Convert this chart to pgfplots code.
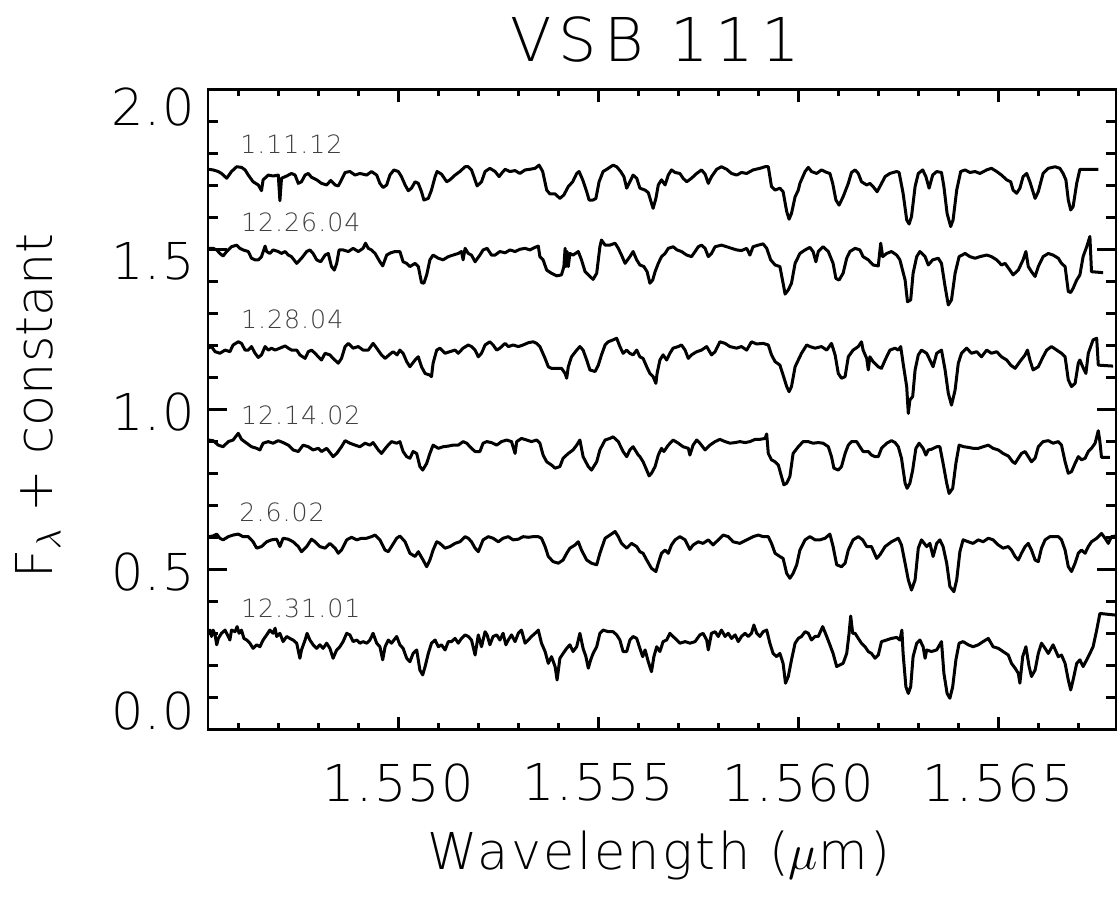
\documentclass[border=0pt]{standalone}
\usepackage{fontspec}
\IfFontExistsTF{DejaVu Sans ExtraLight}{\setmainfont{DejaVu Sans ExtraLight}}{\setmainfont{DejaVu Sans}}
\newcommand\ticksize{\fontsize{25.4pt}{30pt}\addfontfeature{LetterSpace=3}\selectfont}
\newcommand\labelsize{\fontsize{25.4pt}{30pt}\addfontfeature{LetterSpace=5}\selectfont}
\newcommand\ylabelsize{\fontsize{25.4pt}{30pt}\selectfont}
\newcommand\titlesize{\fontsize{30.2pt}{36pt}\addfontfeature{LetterSpace=12}\selectfont}
\newcommand\datesize{\fontsize{12.6pt}{15pt}\addfontfeature{LetterSpace=4}\selectfont}
\usepackage{pgfplots}
\pgfplotsset{compat=1.18}

\begin{document}
\begin{tikzpicture}
\begin{axis}[
    at={(0,0)}, anchor=south west,
    scale only axis, width=454pt, height=320pt,
    xmin=1.5452425, xmax=1.5679425, ymin=0, ymax=2,
    tick pos=both, tick align=inside,
    axis line style={line width=1.4pt},
    tick style={line width=1.4pt, black},
    major tick length=9.5pt, minor tick length=5pt,
    xtick style={/pgfplots/major tick length=6.3pt, /pgfplots/minor tick length=3.3pt},
    xtick={1.550,1.555,1.560,1.565},
    xticklabels={1.550,1.555,1.560,1.565},
    minor xtick={1.546,1.547,1.548,1.549,1.551,1.552,1.553,1.554,1.556,1.557,1.558,1.559,1.561,1.562,1.563,1.564,1.566,1.567},
    ytick={0,0.5,1,1.5,2}, yticklabels={},
    minor y tick num=4,
    extra y ticks={0.057,0.492,0.992,1.463,1.944},
    extra y tick labels={0.0,0.5,1.0,1.5,2.0},
    extra y tick style={tick style={draw=none}},
    /pgf/number format/assume math mode=true,
    ticklabel style={font=\ticksize},
    xticklabel style={yshift=-13.5pt},
    yticklabel style={xshift=-3pt},
]
% 1.11.12
\addplot[black, line width=1.5pt, line join=round] coordinates {
(1.54525,1.750)(1.54537,1.748)(1.54550,1.743)(1.54558,1.737)(1.54571,1.722)(1.54583,1.743)(1.54596,1.758)(1.54608,1.756)(1.54617,1.748)(1.54625,1.732)(1.54637,1.711)(1.54650,1.701)(1.54658,1.683)(1.54662,1.717)(1.54675,1.732)(1.54687,1.729)(1.54700,1.732)(1.54704,1.652)(1.54708,1.722)(1.54721,1.729)(1.54733,1.737)(1.54742,1.732)(1.54750,1.706)(1.54758,1.711)(1.54767,1.732)(1.54775,1.737)(1.54783,1.725)(1.54796,1.717)(1.54808,1.706)(1.54821,1.701)(1.54831,1.715)(1.54842,1.701)(1.54850,1.698)(1.54858,1.717)(1.54867,1.740)(1.54879,1.743)(1.54892,1.732)(1.54904,1.737)(1.54921,1.732)(1.54933,1.743)(1.54946,1.732)(1.54954,1.706)(1.54962,1.693)(1.54971,1.701)(1.54979,1.732)(1.54989,1.748)(1.55000,1.743)(1.55008,1.727)(1.55017,1.701)(1.55025,1.683)(1.55033,1.691)(1.55042,1.711)(1.55050,1.706)(1.55058,1.680)(1.55064,1.654)(1.55075,1.659)(1.55083,1.685)(1.55092,1.727)(1.55097,1.743)(1.55108,1.735)(1.55121,1.711)(1.55129,1.717)(1.55142,1.732)(1.55154,1.743)(1.55167,1.758)(1.55175,1.758)(1.55183,1.748)(1.55189,1.727)(1.55197,1.698)(1.55208,1.711)(1.55217,1.743)(1.55229,1.753)(1.55242,1.743)(1.55252,1.727)(1.55258,1.737)(1.55267,1.750)(1.55279,1.743)(1.55292,1.746)(1.55304,1.737)(1.55317,1.748)(1.55329,1.750)(1.55342,1.753)(1.55352,1.763)(1.55361,1.743)(1.55371,1.685)(1.55379,1.673)(1.55392,1.673)(1.55404,1.659)(1.55414,1.670)(1.55425,1.696)(1.55436,1.711)(1.55446,1.737)(1.55452,1.743)(1.55461,1.717)(1.55471,1.680)(1.55477,1.654)(1.55487,1.654)(1.55494,1.659)(1.55502,1.711)(1.55512,1.743)(1.55525,1.753)(1.55537,1.763)(1.55546,1.758)(1.55556,1.743)(1.55564,1.727)(1.55571,1.691)(1.55579,1.711)(1.55587,1.732)(1.55596,1.722)
(1.55604,1.691)(1.55617,1.685)(1.55625,1.677)(1.55633,1.644)(1.55637,1.628)(1.55644,1.659)(1.55650,1.701)(1.55658,1.717)(1.55667,1.701)(1.55675,1.732)(1.55683,1.748)(1.55692,1.740)(1.55704,1.737)(1.55712,1.722)(1.55721,1.711)(1.55733,1.722)(1.55746,1.737)(1.55758,1.748)(1.55767,1.735)(1.55775,1.706)(1.55783,1.727)(1.55796,1.750)(1.55808,1.758)(1.55821,1.750)(1.55833,1.737)(1.55846,1.732)(1.55858,1.740)(1.55871,1.737)(1.55887,1.748)(1.55904,1.753)(1.55917,1.758)(1.55925,1.758)(1.55933,1.696)(1.55942,1.685)(1.55954,1.691)(1.55962,1.680)(1.55971,1.618)(1.55977,1.594)(1.55983,1.612)(1.55992,1.664)(1.56000,1.685)(1.56004,1.706)(1.56017,1.743)(1.56025,1.756)(1.56033,1.743)(1.56046,1.737)(1.56058,1.748)(1.56071,1.740)(1.56079,1.737)(1.56086,1.706)(1.56094,1.654)(1.56102,1.638)(1.56112,1.664)(1.56125,1.706)(1.56133,1.740)(1.56142,1.748)(1.56150,1.737)(1.56158,1.711)(1.56171,1.701)(1.56179,1.706)(1.56187,1.696)(1.56197,1.680)(1.56204,1.696)(1.56217,1.727)(1.56229,1.737)(1.56246,1.743)(1.56252,1.740)(1.56262,1.675)(1.56271,1.592)(1.56277,1.579)(1.56283,1.602)(1.56292,1.696)(1.56300,1.737)(1.56311,1.748)(1.56319,1.727)(1.56327,1.691)(1.56336,1.732)(1.56346,1.743)(1.56358,1.740)(1.56364,1.696)(1.56372,1.612)(1.56381,1.571)(1.56387,1.592)(1.56396,1.685)(1.56406,1.743)(1.56417,1.748)(1.56429,1.740)(1.56442,1.743)(1.56454,1.737)(1.56471,1.748)(1.56483,1.753)(1.56496,1.743)(1.56508,1.732)(1.56521,1.717)(1.56531,1.711)(1.56537,1.685)(1.56546,1.675)(1.56554,1.691)(1.56562,1.727)(1.56571,1.737)(1.56579,1.711)(1.56592,1.659)(1.56600,1.680)(1.56612,1.737)(1.56625,1.753)(1.56642,1.758)(1.56654,1.753)(1.56662,1.737)(1.56669,1.717)(1.56675,1.654)(1.56681,1.623)(1.56687,1.633)(1.56696,1.706)(1.56704,1.750)(1.56750,1.750)
};
% 12.26.04
\addplot[black, line width=1.5pt, line join=round] coordinates {
(1.54525,1.503)(1.54537,1.503)(1.54546,1.498)(1.54554,1.487)(1.54562,1.479)(1.54571,1.493)(1.54583,1.508)(1.54596,1.513)(1.54604,1.503)(1.54612,1.498)(1.54625,1.493)(1.54633,1.472)(1.54642,1.467)(1.54650,1.467)(1.54658,1.477)(1.54667,1.510)(1.54671,1.493)(1.54679,1.487)(1.54687,1.498)(1.54700,1.493)(1.54708,1.487)(1.54717,1.493)(1.54725,1.482)(1.54733,1.477)(1.54746,1.456)(1.54758,1.472)(1.54771,1.493)(1.54779,1.498)(1.54787,1.487)(1.54796,1.467)(1.54806,1.461)(1.54817,1.482)(1.54825,1.487)(1.54833,1.446)(1.54840,1.435)(1.54846,1.456)(1.54852,1.498)(1.54862,1.498)(1.54875,1.493)(1.54887,1.503)(1.54900,1.493)(1.54912,1.503)(1.54918,1.519)(1.54925,1.503)(1.54933,1.498)(1.54942,1.487)(1.54954,1.461)(1.54961,1.448)(1.54971,1.482)(1.54981,1.489)(1.54992,1.493)(1.55004,1.493)(1.55012,1.461)(1.55021,1.456)(1.55029,1.446)(1.55042,1.456)(1.55050,1.446)(1.55058,1.396)(1.55064,1.394)(1.55071,1.420)(1.55079,1.467)(1.55087,1.482)(1.55100,1.472)(1.55112,1.467)(1.55125,1.477)(1.55137,1.482)(1.55150,1.487)(1.55158,1.493)(1.55162,1.467)(1.55167,1.503)(1.55175,1.487)(1.55183,1.482)(1.55192,1.461)(1.55204,1.482)(1.55212,1.498)(1.55222,1.503)(1.55233,1.482)(1.55242,1.482)(1.55254,1.493)(1.55267,1.489)(1.55279,1.498)(1.55292,1.493)(1.55304,1.500)(1.55317,1.503)(1.55329,1.498)(1.55342,1.506)(1.55350,1.510)(1.55354,1.477)(1.55362,1.467)(1.55371,1.435)(1.55383,1.425)(1.55396,1.417)(1.55408,1.420)(1.55414,1.446)(1.55417,1.503)(1.55419,1.446)(1.55422,1.493)(1.55425,1.446)(1.55429,1.487)(1.55437,1.482)(1.55450,1.493)(1.55458,1.467)(1.55467,1.430)(1.55475,1.420)(1.55487,1.406)(1.55496,1.425)(1.55504,1.508)(1.55508,1.529)(1.55517,1.513)(1.55529,1.513)(1.55542,1.519)(1.55550,1.503)(1.55558,1.482)(1.55567,1.456)(1.55579,1.477)(1.55587,1.493)(1.55596,1.467)
(1.55604,1.451)(1.55614,1.446)(1.55622,1.430)(1.55629,1.394)(1.55636,1.404)(1.55642,1.430)(1.55650,1.456)(1.55658,1.477)(1.55667,1.487)(1.55675,1.503)(1.55687,1.508)(1.55697,1.498)(1.55708,1.493)(1.55721,1.482)(1.55733,1.477)(1.55742,1.493)(1.55750,1.508)(1.55758,1.513)(1.55767,1.503)(1.55775,1.477)(1.55783,1.487)(1.55792,1.508)(1.55808,1.513)(1.55821,1.508)(1.55833,1.503)(1.55846,1.498)(1.55858,1.496)(1.55871,1.503)(1.55879,1.482)(1.55887,1.508)(1.55900,1.513)(1.55912,1.517)(1.55921,1.503)(1.55931,1.467)(1.55942,1.451)(1.55954,1.446)(1.55962,1.394)(1.55967,1.360)(1.55975,1.373)(1.55983,1.394)(1.55992,1.456)(1.56004,1.487)(1.56017,1.498)(1.56029,1.506)(1.56037,1.493)(1.56044,1.461)(1.56050,1.493)(1.56062,1.508)(1.56075,1.493)(1.56087,1.456)(1.56094,1.409)(1.56102,1.404)(1.56112,1.425)(1.56121,1.472)(1.56129,1.493)(1.56142,1.503)(1.56154,1.498)(1.56162,1.477)(1.56175,1.467)(1.56187,1.451)(1.56200,1.448)(1.56206,1.519)(1.56211,1.477)(1.56221,1.487)(1.56233,1.493)(1.56246,1.482)(1.56254,1.467)(1.56267,1.404)(1.56273,1.336)(1.56281,1.342)(1.56287,1.425)(1.56296,1.477)(1.56304,1.493)(1.56317,1.477)(1.56325,1.451)(1.56336,1.467)(1.56350,1.472)(1.56358,1.456)(1.56367,1.383)(1.56375,1.326)(1.56383,1.342)(1.56392,1.425)(1.56402,1.477)(1.56417,1.487)(1.56429,1.477)(1.56442,1.472)(1.56454,1.477)(1.56471,1.482)(1.56483,1.477)(1.56496,1.467)(1.56508,1.451)(1.56517,1.456)(1.56529,1.435)(1.56537,1.420)(1.56550,1.435)(1.56562,1.467)(1.56569,1.493)(1.56575,1.446)(1.56583,1.430)(1.56592,1.415)(1.56600,1.446)(1.56612,1.477)(1.56625,1.487)(1.56637,1.482)(1.56650,1.472)(1.56658,1.456)(1.56667,1.446)(1.56675,1.368)(1.56681,1.365)(1.56687,1.378)(1.56696,1.404)(1.56704,1.420)(1.56712,1.477)(1.56721,1.508)(1.56729,1.540)(1.56733,1.430)(1.56762,1.427)
};
% 1.28.04
\addplot[black, line width=1.5pt, line join=round] coordinates {
(1.54525,1.191)(1.54533,1.196)(1.54542,1.180)(1.54554,1.175)(1.54567,1.185)(1.54579,1.180)(1.54587,1.201)(1.54600,1.211)(1.54608,1.206)(1.54617,1.185)(1.54625,1.185)(1.54633,1.196)(1.54642,1.175)(1.54650,1.162)(1.54658,1.170)(1.54667,1.196)(1.54675,1.185)(1.54683,1.191)(1.54692,1.185)(1.54704,1.191)(1.54717,1.198)(1.54725,1.191)(1.54733,1.185)(1.54746,1.185)(1.54754,1.170)(1.54767,1.159)(1.54775,1.180)(1.54783,1.185)(1.54792,1.175)(1.54800,1.164)(1.54808,1.154)(1.54817,1.175)(1.54829,1.170)(1.54837,1.159)(1.54850,1.144)(1.54858,1.159)(1.54867,1.196)(1.54875,1.206)(1.54887,1.191)(1.54900,1.196)(1.54912,1.185)(1.54925,1.185)(1.54937,1.206)(1.54946,1.191)(1.54958,1.170)(1.54967,1.159)(1.54977,1.170)(1.54987,1.180)(1.54997,1.170)(1.55004,1.185)(1.55012,1.175)(1.55021,1.149)(1.55029,1.133)(1.55042,1.154)(1.55050,1.164)(1.55058,1.133)(1.55067,1.112)(1.55079,1.107)(1.55083,1.102)(1.55087,1.144)(1.55096,1.185)(1.55104,1.191)(1.55117,1.175)(1.55129,1.180)(1.55142,1.185)(1.55150,1.175)(1.55162,1.191)(1.55175,1.201)(1.55183,1.196)(1.55192,1.185)(1.55200,1.164)(1.55208,1.175)(1.55217,1.201)(1.55229,1.211)(1.55237,1.201)(1.55246,1.185)(1.55254,1.191)(1.55267,1.206)(1.55275,1.196)(1.55287,1.201)(1.55300,1.196)(1.55312,1.201)(1.55325,1.208)(1.55337,1.211)(1.55346,1.206)(1.55354,1.196)(1.55367,1.159)(1.55375,1.133)(1.55383,1.128)(1.55396,1.128)(1.55408,1.128)(1.55417,1.112)(1.55421,1.097)(1.55425,1.133)(1.55433,1.164)(1.55446,1.185)(1.55454,1.196)(1.55462,1.185)(1.55471,1.154)(1.55479,1.123)(1.55492,1.118)(1.55500,1.138)(1.55508,1.170)(1.55517,1.201)(1.55525,1.211)(1.55537,1.217)(1.55546,1.222)(1.55554,1.196)(1.55562,1.175)(1.55571,1.185)(1.55579,1.175)(1.55587,1.170)(1.55596,1.185)
(1.55604,1.164)(1.55612,1.159)(1.55621,1.133)(1.55629,1.112)(1.55637,1.102)(1.55644,1.081)(1.55647,1.112)(1.55654,1.154)(1.55662,1.170)(1.55671,1.154)(1.55679,1.175)(1.55687,1.191)(1.55700,1.196)(1.55708,1.201)(1.55717,1.185)(1.55725,1.159)(1.55733,1.170)(1.55746,1.180)(1.55758,1.185)(1.55771,1.196)(1.55783,1.170)(1.55792,1.180)(1.55804,1.211)(1.55817,1.206)(1.55829,1.196)(1.55846,1.191)(1.55858,1.196)(1.55871,1.185)(1.55883,1.211)(1.55896,1.204)(1.55912,1.206)(1.55925,1.201)(1.55933,1.170)(1.55942,1.149)(1.55954,1.138)(1.55962,1.107)(1.55971,1.071)(1.55977,1.055)(1.55983,1.071)(1.55992,1.133)(1.56000,1.154)(1.56008,1.175)(1.56021,1.201)(1.56029,1.196)(1.56042,1.191)(1.56058,1.196)(1.56071,1.185)(1.56083,1.206)(1.56092,1.170)(1.56100,1.112)(1.56108,1.097)(1.56117,1.102)(1.56125,1.164)(1.56137,1.185)(1.56150,1.196)(1.56158,1.211)(1.56162,1.185)(1.56171,1.159)(1.56175,1.123)(1.56179,1.164)(1.56187,1.149)(1.56200,1.133)(1.56208,1.128)(1.56217,1.154)(1.56229,1.185)(1.56242,1.191)(1.56250,1.185)(1.56256,1.196)(1.56262,1.144)(1.56271,1.071)(1.56275,0.987)(1.56279,1.029)(1.56286,1.040)(1.56292,1.123)(1.56300,1.170)(1.56308,1.185)(1.56321,1.175)(1.56329,1.154)(1.56337,1.133)(1.56346,1.175)(1.56358,1.185)(1.56367,1.123)(1.56375,1.050)(1.56383,1.013)(1.56392,1.060)(1.56400,1.144)(1.56408,1.175)(1.56421,1.191)(1.56433,1.175)(1.56446,1.180)(1.56458,1.164)(1.56471,1.185)(1.56483,1.175)(1.56496,1.180)(1.56508,1.164)(1.56521,1.154)(1.56531,1.138)(1.56542,1.128)(1.56554,1.149)(1.56567,1.170)(1.56573,1.185)(1.56579,1.154)(1.56587,1.123)(1.56600,1.133)(1.56612,1.164)(1.56621,1.185)(1.56633,1.196)(1.56646,1.185)(1.56658,1.175)(1.56667,1.164)(1.56675,1.092)(1.56683,1.071)(1.56692,1.081)(1.56700,1.144)(1.56704,1.154)(1.56711,1.133)(1.56719,1.112)(1.56725,1.175)(1.56737,1.217)(1.56746,1.222)(1.56750,1.138)(1.56787,1.135)
};
% 12.14.02
\addplot[black, line width=1.5pt, line join=round] coordinates {
(1.54525,0.904)(1.54537,0.902)(1.54550,0.888)(1.54562,0.883)(1.54575,0.899)(1.54587,0.904)(1.54600,0.925)(1.54608,0.906)(1.54621,0.894)(1.54633,0.883)(1.54646,0.878)(1.54654,0.873)(1.54662,0.894)(1.54675,0.899)(1.54687,0.894)(1.54700,0.902)(1.54712,0.896)(1.54725,0.888)(1.54737,0.873)(1.54750,0.868)(1.54762,0.888)(1.54775,0.883)(1.54787,0.873)(1.54800,0.878)(1.54808,0.868)(1.54821,0.878)(1.54831,0.862)(1.54837,0.852)(1.54846,0.862)(1.54858,0.883)(1.54867,0.902)(1.54879,0.894)(1.54892,0.888)(1.54904,0.883)(1.54917,0.894)(1.54929,0.888)(1.54937,0.896)(1.54950,0.873)(1.54958,0.862)(1.54971,0.883)(1.54983,0.899)(1.54996,0.894)(1.55004,0.899)(1.55012,0.868)(1.55021,0.852)(1.55029,0.847)(1.55037,0.868)(1.55046,0.862)(1.55054,0.821)(1.55061,0.810)(1.55071,0.831)(1.55079,0.862)(1.55087,0.888)(1.55100,0.878)(1.55112,0.883)(1.55125,0.885)(1.55137,0.888)(1.55150,0.888)(1.55162,0.899)(1.55171,0.894)(1.55183,0.878)(1.55192,0.868)(1.55204,0.868)(1.55212,0.894)(1.55221,0.899)(1.55233,0.896)(1.55246,0.888)(1.55258,0.899)(1.55271,0.904)(1.55283,0.899)(1.55292,0.862)(1.55296,0.899)(1.55308,0.909)(1.55321,0.904)(1.55333,0.899)(1.55346,0.904)(1.55354,0.894)(1.55362,0.857)(1.55371,0.836)(1.55383,0.826)(1.55392,0.816)(1.55404,0.821)(1.55412,0.847)(1.55425,0.862)(1.55437,0.873)(1.55446,0.888)(1.55454,0.904)(1.55462,0.852)(1.55475,0.821)(1.55483,0.810)(1.55496,0.836)(1.55504,0.873)(1.55517,0.904)(1.55529,0.909)(1.55537,0.914)(1.55550,0.899)(1.55562,0.868)(1.55571,0.852)(1.55579,0.873)(1.55587,0.883)(1.55600,0.857)
(1.55604,0.852)(1.55612,0.836)(1.55621,0.810)(1.55627,0.792)(1.55633,0.800)(1.55642,0.821)(1.55650,0.857)(1.55658,0.878)(1.55664,0.868)(1.55675,0.888)(1.55687,0.904)(1.55700,0.894)(1.55712,0.883)(1.55725,0.878)(1.55729,0.857)(1.55737,0.888)(1.55746,0.904)(1.55754,0.894)(1.55767,0.873)(1.55779,0.888)(1.55792,0.899)(1.55804,0.906)(1.55817,0.899)(1.55829,0.894)(1.55842,0.896)(1.55854,0.899)(1.55867,0.896)(1.55879,0.899)(1.55892,0.906)(1.55904,0.906)(1.55917,0.909)(1.55921,0.923)(1.55925,0.862)(1.55933,0.842)(1.55942,0.836)(1.55950,0.826)(1.55958,0.790)(1.55964,0.764)(1.55971,0.769)(1.55979,0.790)(1.55987,0.862)(1.56000,0.883)(1.56012,0.899)(1.56025,0.899)(1.56037,0.894)(1.56050,0.896)(1.56062,0.894)(1.56075,0.883)(1.56083,0.852)(1.56089,0.816)(1.56100,0.810)(1.56108,0.821)(1.56117,0.862)(1.56125,0.888)(1.56133,0.899)(1.56146,0.899)(1.56154,0.883)(1.56162,0.868)(1.56175,0.868)(1.56183,0.857)(1.56192,0.852)(1.56200,0.852)(1.56208,0.878)(1.56221,0.894)(1.56233,0.902)(1.56242,0.896)(1.56250,0.883)(1.56258,0.847)(1.56267,0.769)(1.56272,0.753)(1.56279,0.769)(1.56286,0.810)(1.56289,0.836)(1.56294,0.878)(1.56302,0.894)(1.56312,0.878)(1.56319,0.857)(1.56325,0.873)(1.56333,0.875)(1.56346,0.883)(1.56354,0.883)(1.56362,0.831)(1.56371,0.769)(1.56377,0.737)(1.56386,0.753)(1.56394,0.831)(1.56402,0.888)(1.56414,0.883)(1.56425,0.881)(1.56437,0.878)(1.56450,0.878)(1.56462,0.883)(1.56475,0.888)(1.56487,0.878)(1.56500,0.873)(1.56512,0.862)(1.56525,0.854)(1.56536,0.836)(1.56542,0.831)(1.56550,0.847)(1.56558,0.862)(1.56567,0.868)(1.56575,0.852)(1.56583,0.836)(1.56592,0.847)(1.56600,0.883)(1.56612,0.899)(1.56625,0.902)(1.56637,0.894)(1.56650,0.899)(1.56658,0.888)(1.56667,0.836)(1.56675,0.800)(1.56683,0.805)(1.56692,0.831)(1.56700,0.852)(1.56708,0.842)(1.56717,0.847)(1.56725,0.868)(1.56733,0.878)(1.56742,0.894)(1.56750,0.933)(1.56754,0.899)(1.56758,0.850)(1.56779,0.850)
};
% 2.6.02
\addplot[black, line width=1.5pt, line join=round] coordinates {
(1.54525,0.602)(1.54537,0.604)(1.54546,0.610)(1.54554,0.597)(1.54562,0.592)(1.54575,0.602)(1.54587,0.607)(1.54600,0.610)(1.54612,0.602)(1.54625,0.602)(1.54637,0.586)(1.54646,0.566)(1.54658,0.571)(1.54671,0.586)(1.54683,0.592)(1.54696,0.594)(1.54704,0.571)(1.54712,0.597)(1.54725,0.594)(1.54737,0.586)(1.54750,0.571)(1.54758,0.555)(1.54771,0.571)(1.54783,0.594)(1.54792,0.586)(1.54804,0.571)(1.54817,0.566)(1.54829,0.581)(1.54842,0.566)(1.54850,0.550)(1.54858,0.560)(1.54871,0.592)(1.54883,0.600)(1.54896,0.592)(1.54908,0.597)(1.54921,0.597)(1.54933,0.602)(1.54942,0.607)(1.54954,0.592)(1.54967,0.560)(1.54975,0.555)(1.54983,0.571)(1.54996,0.597)(1.55004,0.604)(1.55017,0.586)(1.55029,0.550)(1.55042,0.540)(1.55050,0.555)(1.55062,0.529)(1.55071,0.508)(1.55079,0.529)(1.55087,0.560)(1.55096,0.586)(1.55104,0.581)(1.55117,0.566)(1.55129,0.571)(1.55142,0.581)(1.55154,0.586)(1.55167,0.602)(1.55175,0.597)(1.55183,0.586)(1.55192,0.566)(1.55200,0.555)(1.55212,0.592)(1.55225,0.602)(1.55237,0.597)(1.55250,0.586)(1.55262,0.597)(1.55275,0.602)(1.55287,0.592)(1.55300,0.594)(1.55312,0.602)(1.55325,0.600)(1.55337,0.602)(1.55350,0.602)(1.55358,0.597)(1.55367,0.571)(1.55375,0.540)(1.55387,0.524)(1.55400,0.519)(1.55412,0.529)(1.55421,0.550)(1.55429,0.566)(1.55442,0.576)(1.55450,0.586)(1.55458,0.560)(1.55471,0.529)(1.55483,0.519)(1.55496,0.514)(1.55504,0.550)(1.55517,0.597)(1.55529,0.607)(1.55542,0.618)(1.55550,0.602)(1.55558,0.581)(1.55571,0.566)(1.55583,0.581)(1.55596,0.571)
(1.55604,0.555)(1.55612,0.550)(1.55621,0.529)(1.55633,0.503)(1.55644,0.493)(1.55650,0.519)(1.55658,0.550)(1.55667,0.560)(1.55675,0.550)(1.55683,0.576)(1.55692,0.592)(1.55704,0.602)(1.55717,0.592)(1.55729,0.562)(1.55737,0.576)(1.55750,0.586)(1.55762,0.581)(1.55775,0.592)(1.55787,0.576)(1.55800,0.592)(1.55812,0.607)(1.55825,0.602)(1.55837,0.586)(1.55854,0.581)(1.55871,0.592)(1.55887,0.602)(1.55900,0.607)(1.55912,0.602)(1.55925,0.602)(1.55933,0.581)(1.55942,0.550)(1.55954,0.540)(1.55962,0.534)(1.55971,0.487)(1.55979,0.472)(1.55987,0.487)(1.55996,0.514)(1.56004,0.560)(1.56017,0.592)(1.56029,0.602)(1.56042,0.592)(1.56054,0.592)(1.56067,0.597)(1.56079,0.610)(1.56087,0.571)(1.56096,0.514)(1.56108,0.508)(1.56117,0.519)(1.56125,0.560)(1.56137,0.592)(1.56150,0.602)(1.56161,0.592)(1.56171,0.571)(1.56183,0.571)(1.56196,0.534)(1.56204,0.545)(1.56217,0.571)(1.56233,0.586)(1.56250,0.597)(1.56258,0.576)(1.56267,0.519)(1.56275,0.467)(1.56283,0.435)(1.56292,0.467)(1.56300,0.566)(1.56308,0.592)(1.56321,0.571)(1.56329,0.581)(1.56337,0.540)(1.56346,0.581)(1.56354,0.592)(1.56362,0.571)(1.56371,0.519)(1.56379,0.446)(1.56389,0.430)(1.56396,0.467)(1.56404,0.555)(1.56412,0.592)(1.56425,0.586)(1.56437,0.581)(1.56450,0.592)(1.56462,0.586)(1.56475,0.597)(1.56487,0.592)(1.56500,0.576)(1.56512,0.566)(1.56525,0.571)(1.56533,0.560)(1.56542,0.540)(1.56550,0.529)(1.56558,0.550)(1.56567,0.571)(1.56575,0.581)(1.56583,0.560)(1.56592,0.529)(1.56600,0.524)(1.56608,0.566)(1.56617,0.592)(1.56629,0.602)(1.56642,0.602)(1.56650,0.602)(1.56658,0.592)(1.56667,0.560)(1.56675,0.508)(1.56683,0.493)(1.56692,0.519)(1.56700,0.550)(1.56708,0.560)(1.56717,0.550)(1.56725,0.571)(1.56733,0.586)(1.56746,0.597)(1.56758,0.612)(1.56767,0.597)(1.56775,0.581)(1.56783,0.602)(1.56794,0.604)
};
% 12.31.01
\addplot[black, line width=1.5pt, line join=round] coordinates {
(1.54525,0.300)(1.54529,0.310)(1.54533,0.290)(1.54537,0.310)(1.54542,0.295)(1.54546,0.264)(1.54550,0.284)(1.54558,0.300)(1.54567,0.310)(1.54575,0.290)(1.54579,0.279)(1.54583,0.310)(1.54592,0.305)(1.54597,0.321)(1.54602,0.300)(1.54608,0.310)(1.54614,0.284)(1.54621,0.279)(1.54629,0.269)(1.54637,0.253)(1.54646,0.264)(1.54654,0.258)(1.54662,0.279)(1.54671,0.295)(1.54679,0.310)(1.54687,0.300)(1.54692,0.316)(1.54696,0.290)(1.54704,0.300)(1.54712,0.274)(1.54721,0.290)(1.54729,0.284)(1.54737,0.279)(1.54746,0.269)(1.54754,0.222)(1.54758,0.248)(1.54767,0.279)(1.54772,0.300)(1.54779,0.279)(1.54787,0.264)(1.54796,0.253)(1.54804,0.264)(1.54812,0.253)(1.54821,0.269)(1.54829,0.253)(1.54837,0.222)(1.54846,0.248)(1.54854,0.258)(1.54862,0.274)(1.54871,0.300)(1.54879,0.295)(1.54887,0.274)(1.54896,0.279)(1.54904,0.269)(1.54912,0.274)(1.54921,0.269)(1.54929,0.279)(1.54937,0.300)(1.54946,0.269)(1.54954,0.258)(1.54961,0.217)(1.54967,0.258)(1.54975,0.279)(1.54983,0.269)(1.54996,0.290)(1.55004,0.264)(1.55012,0.253)(1.55021,0.222)(1.55029,0.211)(1.55037,0.237)(1.55046,0.248)(1.55054,0.185)(1.55061,0.170)(1.55067,0.196)(1.55075,0.237)(1.55083,0.269)(1.55092,0.279)(1.55100,0.258)(1.55108,0.264)(1.55117,0.248)(1.55125,0.274)(1.55133,0.274)(1.55142,0.284)(1.55150,0.269)(1.55158,0.284)(1.55167,0.295)(1.55175,0.290)(1.55183,0.279)(1.55192,0.232)(1.55200,0.295)(1.55208,0.258)(1.55217,0.305)(1.55222,0.295)(1.55229,0.264)(1.55237,0.290)(1.55246,0.295)(1.55254,0.279)(1.55262,0.300)(1.55269,0.264)(1.55275,0.279)(1.55283,0.295)(1.55292,0.274)(1.55300,0.300)(1.55308,0.310)(1.55317,0.269)(1.55325,0.279)(1.55333,0.290)(1.55342,0.300)(1.55350,0.310)(1.55358,0.269)(1.55367,0.243)(1.55375,0.206)(1.55383,0.227)(1.55392,0.196)(1.55397,0.154)(1.55404,0.222)(1.55412,0.237)(1.55421,0.253)(1.55429,0.264)(1.55437,0.243)(1.55446,0.258)(1.55454,0.300)(1.55462,0.253)(1.55469,0.227)(1.55475,0.191)(1.55481,0.217)(1.55487,0.237)(1.55496,0.258)(1.55504,0.300)(1.55512,0.310)(1.55525,0.305)(1.55537,0.305)(1.55546,0.295)(1.55554,0.279)(1.55562,0.243)(1.55571,0.243)(1.55579,0.279)(1.55587,0.290)(1.55596,0.284)
(1.55604,0.253)(1.55611,0.227)(1.55617,0.248)(1.55625,0.211)(1.55633,0.180)(1.55639,0.227)(1.55646,0.258)(1.55654,0.243)(1.55662,0.274)(1.55671,0.279)(1.55679,0.300)(1.55687,0.290)(1.55696,0.279)(1.55704,0.269)(1.55717,0.274)(1.55729,0.269)(1.55742,0.274)(1.55754,0.295)(1.55762,0.300)(1.55771,0.279)(1.55775,0.248)(1.55783,0.300)(1.55792,0.305)(1.55800,0.290)(1.55808,0.310)(1.55817,0.290)(1.55825,0.300)(1.55833,0.284)(1.55842,0.295)(1.55850,0.274)(1.55858,0.290)(1.55867,0.300)(1.55875,0.290)(1.55883,0.300)(1.55889,0.326)(1.55896,0.300)(1.55904,0.290)(1.55912,0.305)(1.55921,0.310)(1.55929,0.269)(1.55937,0.237)(1.55946,0.227)(1.55954,0.237)(1.55962,0.206)(1.55968,0.144)(1.55975,0.165)(1.55983,0.217)(1.55992,0.269)(1.56000,0.284)(1.56008,0.290)(1.56017,0.305)(1.56025,0.300)(1.56033,0.279)(1.56042,0.290)(1.56050,0.290)(1.56061,0.321)(1.56071,0.290)(1.56079,0.264)(1.56087,0.237)(1.56096,0.196)(1.56104,0.201)(1.56112,0.206)(1.56121,0.237)(1.56127,0.300)(1.56131,0.354)(1.56136,0.300)(1.56142,0.300)(1.56150,0.284)(1.56158,0.269)(1.56167,0.258)(1.56175,0.243)(1.56183,0.237)(1.56192,0.222)(1.56200,0.232)(1.56208,0.274)(1.56221,0.279)(1.56233,0.284)(1.56246,0.287)(1.56254,0.279)(1.56259,0.310)(1.56262,0.237)(1.56269,0.133)(1.56275,0.112)(1.56281,0.133)(1.56287,0.227)(1.56296,0.269)(1.56304,0.279)(1.56312,0.258)(1.56317,0.222)(1.56321,0.248)(1.56333,0.243)(1.56346,0.248)(1.56358,0.274)(1.56364,0.175)(1.56372,0.112)(1.56379,0.097)(1.56386,0.133)(1.56394,0.217)(1.56402,0.269)(1.56412,0.274)(1.56425,0.264)(1.56437,0.258)(1.56450,0.264)(1.56462,0.274)(1.56475,0.284)(1.56487,0.258)(1.56500,0.253)(1.56512,0.243)(1.56525,0.232)(1.56533,0.206)(1.56542,0.191)(1.56550,0.175)(1.56554,0.144)(1.56561,0.227)(1.56569,0.258)(1.56577,0.196)(1.56583,0.165)(1.56592,0.185)(1.56600,0.237)(1.56608,0.269)(1.56617,0.253)(1.56625,0.237)(1.56637,0.264)(1.56650,0.227)(1.56658,0.232)(1.56667,0.206)(1.56675,0.154)(1.56681,0.123)(1.56687,0.154)(1.56696,0.206)(1.56704,0.217)(1.56712,0.196)(1.56721,0.217)(1.56729,0.237)(1.56737,0.258)(1.56746,0.310)(1.56754,0.362)(1.56792,0.357)
};
% date labels
\node[anchor=base west, inner sep=0pt, font=\datesize, text=black!75] at (axis cs:1.54604,1.800) {1.11.12};
\node[anchor=base west, inner sep=0pt, font=\datesize, text=black!75] at (axis cs:1.54606,1.555) {12.26.04};
\node[anchor=base west, inner sep=0pt, font=\datesize, text=black!75] at (axis cs:1.54606,1.253) {1.28.04};
\node[anchor=base west, inner sep=0pt, font=\datesize, text=black!75] at (axis cs:1.54606,0.951) {12.14.02};
\node[anchor=base west, inner sep=0pt, font=\datesize, text=black!75] at (axis cs:1.54602,0.649) {2.6.02};
\node[anchor=base west, inner sep=0pt, font=\datesize, text=black!75] at (axis cs:1.54606,0.350) {12.31.01};
\end{axis}
\node[anchor=base, font=\titlesize] at (223.5pt,333.65pt) {VSB 111};
\node[anchor=base, font=\labelsize] at (225.5pt,-70.35pt) {Wavelength ($\mu$m)};
\node[anchor=base, rotate=90, font=\ylabelsize] at (-77.5pt,161.65pt) {F$_\lambda$ + constant};
\pgfresetboundingbox
\path[use as bounding box] (-104pt,-84.35pt) rectangle (455.5pt,364.65pt);
\end{tikzpicture}
\end{document}
